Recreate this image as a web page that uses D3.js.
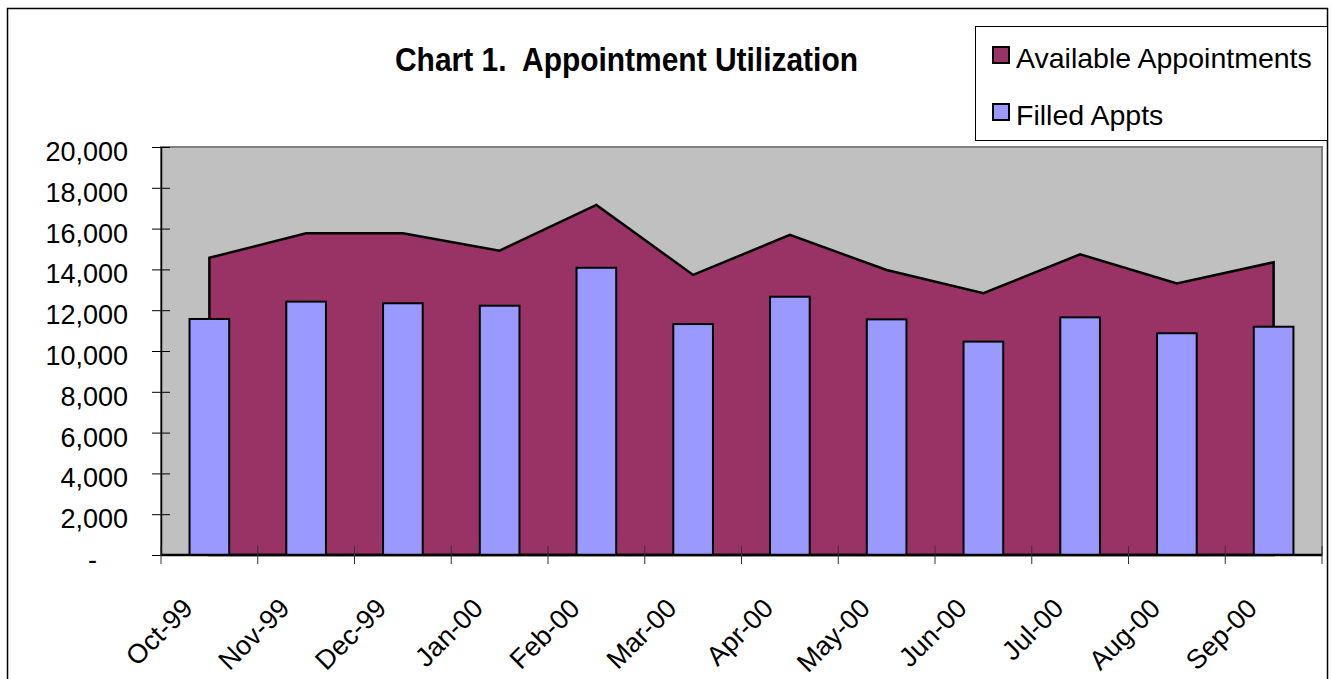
<!DOCTYPE html>
<html>
<head>
<meta charset="utf-8">
<script src="https://cdn.jsdelivr.net/npm/d3@7"></script>
<style>
  body { margin: 0; background: #fff; }
  text { font-family: "Liberation Sans", Arial, sans-serif; fill: #000; }
</style>
</head>
<body>
<script>
// chart data
var categories = ["Oct-99", "Nov-99", "Dec-99", "Jan-00", "Feb-00", "Mar-00",
                  "Apr-00", "May-00", "Jun-00", "Jul-00", "Aug-00", "Sep-00"]
var available = [14570, 15770, 15770, 14920, 17160, 13730, 15690, 13970, 12830, 14740, 13310, 14350]
var filled = [11570, 12420, 12340, 12220, 14080, 11320, 12660, 11550, 10460, 11650, 10870, 11190]
var yTicks = [0, 2000, 4000, 6000, 8000, 10000, 12000, 14000, 16000, 18000, 20000]
var seriesNames = ["Available Appointments", "Filled Appts"]
var seriesColors = ["#993366", "#9999FF"]

var svg = d3.select("body")
  .append("svg")
  .attr("width", 1333)
  .attr("height", 679)

// outer chart border
svg.append("rect")
  .attr("x", 7.5).attr("y", 8.5)
  .attr("width", 1320).attr("height", 700)
  .attr("fill", "#fff")
  .attr("stroke", "#000").attr("stroke-width", 1.5)

// plot box (window.top is taken, so own names)
var plotL = 161, plotR = 1322, plotT = 147, plotB = 555

var x = d3.scaleBand().domain(categories).range([plotL, plotR])
var y = d3.scaleLinear().domain([0, 20000]).range([plotB, plotT])
var bw = x.bandwidth()

// plot area
svg.append("rect")
  .attr("x", plotL).attr("y", plotT)
  .attr("width", plotR - plotL).attr("height", plotB - plotT)
  .attr("fill", "#C0C0C0")
  .attr("stroke", "#808080").attr("stroke-width", 2)

// available appointments as area
var rows = categories.map(function (c, i) { return { cat: c, a: available[i], f: filled[i] } })

var area = d3.area()
  .x(function (d) { return x(d.cat) + bw / 2 })
  .y0(y(0))
  .y1(function (d) { return y(d.a) })

svg.append("path")
  .datum(rows)
  .attr("d", area)
  .attr("fill", seriesColors[0])
  .attr("stroke", "#000")
  .attr("stroke-width", 2.5)
  .attr("stroke-linejoin", "miter")

// filled appointments as bars
var barW = bw * 0.41
svg.selectAll("rect.bar")
  .data(rows)
  .enter()
  .append("rect")
  .attr("class", "bar")
  .attr("x", function (d) { return x(d.cat) + (bw - barW) / 2 })
  .attr("y", function (d) { return y(d.f) })
  .attr("width", barW)
  .attr("height", function (d) { return y(0) - y(d.f) })
  .attr("fill", seriesColors[1])
  .attr("stroke", "#000")
  .attr("stroke-width", 2)

// y axis
var yAxis = svg.append("g")
  .attr("transform", "translate(" + plotL + ",0)")
  .call(d3.axisLeft(y)
    .tickValues(yTicks)
    .tickSizeInner(9)
    .tickSizeOuter(0)
    .tickPadding(24)
    .tickFormat(function (d) { return d === 0 ? "-" : d3.format(",")(d) }))

yAxis.select(".domain").attr("stroke", "#000").attr("stroke-width", 1.5)
yAxis.selectAll(".tick line").attr("x1", -9).attr("x2", 9).attr("stroke", "#000")
yAxis.selectAll(".tick text")
  .style("font-size", "27px")
  .attr("dy", "0.5em")
  .filter(function (d) { return d === 0 })
  .attr("x", -64)

// x axis
svg.append("line")
  .attr("x1", plotL).attr("x2", plotR)
  .attr("y1", plotB).attr("y2", plotB)
  .attr("stroke", "#000").attr("stroke-width", 2.5)

var bounds = categories.map(function (c) { return x(c) }).concat([plotR])
svg.selectAll("line.xtick")
  .data(bounds)
  .enter()
  .append("line")
  .attr("class", "xtick")
  .attr("x1", function (d) { return d }).attr("x2", function (d) { return d })
  .attr("y1", plotB - 9).attr("y2", plotB + 9)
  .attr("stroke", "#333").attr("stroke-width", 1)

svg.selectAll("text.xlab")
  .data(categories)
  .enter()
  .append("text")
  .attr("class", "xlab")
  .attr("text-anchor", "end")
  .style("font-size", "27px")
  .attr("transform", function (d) {
    return "translate(" + (x(d) + bw / 2 - 15) + "," + (plotB + 55) + ") rotate(-45)"
  })
  .text(function (d) { return d })

// title
svg.append("text")
  .attr("x", 626.5).attr("y", 71)
  .attr("text-anchor", "middle")
  .attr("textLength", 463)
  .attr("lengthAdjust", "spacingAndGlyphs")
  .style("font-size", "33px")
  .style("font-weight", "bold")
  .text("Chart 1.\u00a0 Appointment Utilization")

// legend
var legend = svg.append("g")
legend.append("rect")
  .attr("x", 975.5).attr("y", 26.5)
  .attr("width", 352).attr("height", 114)
  .attr("fill", "#fff")
  .attr("stroke", "#000").attr("stroke-width", 1)

var items = legend.selectAll("g.item")
  .data(seriesNames)
  .enter()
  .append("g")
  .attr("class", "item")
  .attr("transform", function (d, i) { return "translate(0," + (i * 57) + ")" })

items.append("rect")
  .attr("x", 993).attr("y", 47)
  .attr("width", 16).attr("height", 16)
  .attr("fill", function (d, i) { return seriesColors[i] })
  .attr("stroke", "#000").attr("stroke-width", 2)

items.append("text")
  .attr("x", 1016).attr("y", 68)
  .style("font-size", "28.5px")
  .text(function (d) { return d })
</script>
</body>
</html>
